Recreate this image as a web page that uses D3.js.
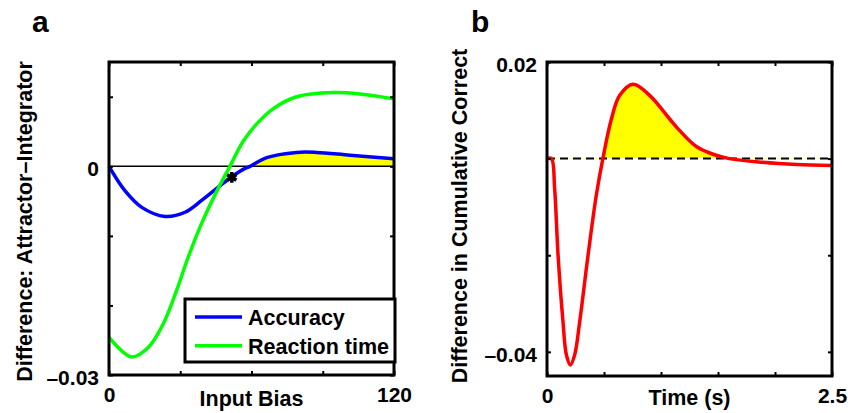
<!DOCTYPE html>
<html>
<head>
<meta charset="utf-8">
<script src="https://cdn.jsdelivr.net/npm/d3@7"></script>
<style>
  body { margin: 0; background: #fff; }
  text { font-family: "Liberation Sans", Arial, sans-serif; font-weight: bold; }
</style>
</head>
<body>
<div id="chart"></div>
<script>
// panel a: difference vs input bias
const biasX = [0, 6.7, 13.8, 23.6, 32, 39, 46, 51.7, 57.3, 59.4, 66.4, 79, 87.4, 101.5, 120];
const accuracyDiff = [0, -0.0035, -0.0059, -0.0072, -0.0066, -0.0049, -0.003, -0.0015, -0.0003, 0, 0.00125, 0.002, 0.002, 0.0016, 0.0011];
const rtX = [0, 9.55, 16.6, 22.9, 28.5, 33.4, 39, 44.6, 50.9, 56.5, 62.2, 69.2, 79, 94.4, 105.7, 120];
const rtDiff = [-0.0246, -0.0274, -0.026, -0.0226, -0.0178, -0.013, -0.0082, -0.0041, 0, 0.0036, 0.0061, 0.0083, 0.01, 0.0106, 0.0104, 0.0097];
const starPoint = [51.7, -0.0016];
const seriesNames = ["Accuracy", "Reaction time"];

const biasTicks = [0, 30, 60, 90, 120];
const biasTickLabels = ["0", "", "", "", "120"];
const diffTicks = [-0.03, -0.02, -0.01, 0, 0.01];
const diffTickLabels = ["\u20130.03", "", "", "0", ""];

// panel b: difference in cumulative correct vs time
const timeX = [0, 0.039, 0.067, 0.097, 0.14, 0.17, 0.205, 0.243, 0.287, 0.36, 0.433, 0.49, 0.565, 0.638, 0.755, 0.9, 1.076, 1.16, 1.31, 1.456, 1.6, 1.89, 2.19, 2.5];
const cumDiff = [0, 0, -0.0062, -0.02, -0.0337, -0.0406, -0.0427, -0.0406, -0.0337, -0.02, -0.0075, 0, 0.0082, 0.0131, 0.0154, 0.0131, 0.0082, 0.0059, 0.0025, 0.0009, 0, -0.00075, -0.0012, -0.0014];

const timeTicks = [0, 0.5, 1, 1.5, 2, 2.5];
const timeTickLabels = ["0", "", "", "", "", "2.5"];
const cumTicks = [-0.04, -0.02, 0, 0.02];
const cumTickLabels = ["\u20130.04", "", "", "0.02"];

const width = 848, height = 413;

const svg = d3.select("#chart").append("svg")
    .attr("width", width)
    .attr("height", height)
    .style("background", "#fff");

function labelFor(ticks, labels) {
    return d => {
        const i = ticks.findIndex(t => Math.abs(t - d) < 1e-9);
        return i < 0 ? "" : labels[i];
    };
}

// draws the box, inward ticks on all four sides and tick labels
function drawFrame(g, x, y, xTicks, xLabels, yTicks, yLabels) {
    const [x0, x1] = x.range();
    const [y0, y1] = y.range();

    const bottom = g.append("g").attr("transform", `translate(0,${y0})`)
        .call(d3.axisBottom(x).tickValues(xTicks).tickSizeInner(-4).tickSizeOuter(0)
            .tickPadding(12).tickFormat(labelFor(xTicks, xLabels)));
    const top = g.append("g").attr("transform", `translate(0,${y1})`)
        .call(d3.axisTop(x).tickValues(xTicks).tickSizeInner(-4).tickSizeOuter(0).tickFormat(""));
    const left = g.append("g").attr("transform", `translate(${x0},0)`)
        .call(d3.axisLeft(y).tickValues(yTicks).tickSizeInner(-4).tickSizeOuter(0)
            .tickPadding(10).tickFormat(labelFor(yTicks, yLabels)));
    const right = g.append("g").attr("transform", `translate(${x1},0)`)
        .call(d3.axisRight(y).tickValues(yTicks).tickSizeInner(-4).tickSizeOuter(0).tickFormat(""));

    [bottom, top, left, right].forEach(a => {
        a.select(".domain").remove();
        a.selectAll(".tick line").attr("stroke", "#000").attr("stroke-width", 2);
        a.selectAll("text")
            .attr("fill", "#000")
            .style("font-size", "21px")
            .style("font-family", "'Liberation Sans', Arial, sans-serif")
            .style("font-weight", "bold");
    });
    left.selectAll("text").attr("dy", "0.44em");

    g.append("rect")
        .attr("x", x0).attr("y", y1)
        .attr("width", x1 - x0).attr("height", y0 - y1)
        .attr("fill", "none")
        .attr("stroke", "#000")
        .attr("stroke-width", 3);
}

const smooth = d3.curveCatmullRom.alpha(0.5);

// ---------- panel a ----------
const xA = d3.scaleLinear().domain([0, 120]).range([109, 394]);
const yA = d3.scaleLinear().domain([-0.03, 0.015]).range([375, 62]);
const gA = svg.append("g");

const accData = biasX.map((b, i) => [b, accuracyDiff[i]]);
const rtData = rtX.map((b, i) => [b, rtDiff[i]]);

svg.append("clipPath").attr("id", "aboveZeroA")
    .append("rect")
    .attr("x", xA(0)).attr("y", yA.range()[1])
    .attr("width", xA(120) - xA(0)).attr("height", yA(0) - yA.range()[1]);

gA.append("path")
    .datum(accData)
    .attr("clip-path", "url(#aboveZeroA)")
    .attr("fill", "#ffff00")
    .attr("d", d3.area().x(d => xA(d[0])).y0(yA(0)).y1(d => yA(d[1])).curve(smooth));

gA.append("line")
    .attr("x1", xA(0)).attr("x2", xA(120))
    .attr("y1", yA(0)).attr("y2", yA(0))
    .attr("stroke", "#000").attr("stroke-width", 1.5);

const lineA = d3.line().x(d => xA(d[0])).y(d => yA(d[1])).curve(smooth);

gA.append("path").datum(accData)
    .attr("fill", "none").attr("stroke", "#0000ff").attr("stroke-width", 3.5)
    .attr("d", lineA);
gA.append("path").datum(rtData)
    .attr("fill", "none").attr("stroke", "#00ff00").attr("stroke-width", 3.5)
    .attr("d", lineA);

gA.append("path")
    .attr("transform", `translate(${xA(starPoint[0])},${yA(starPoint[1])})`)
    .attr("d", d3.symbol(d3.symbolAsterisk, 80)())
    .attr("fill", "none").attr("stroke", "#000").attr("stroke-width", 3.5);

drawFrame(gA, xA, yA, biasTicks, biasTickLabels, diffTicks, diffTickLabels);

// legend
const legend = gA.append("g");
legend.append("rect")
    .attr("x", 185).attr("y", 299).attr("width", 210).attr("height", 63)
    .attr("fill", "#fff").attr("stroke", "#000").attr("stroke-width", 3);
const legendColors = ["#0000ff", "#00ff00"];
seriesNames.forEach((name, i) => {
    const ly = 317 + i * 28.7;
    legend.append("line")
        .attr("x1", 195).attr("x2", 242).attr("y1", ly).attr("y2", ly)
        .attr("stroke", legendColors[i]).attr("stroke-width", 3.5);
    legend.append("text")
        .attr("x", 248).attr("y", ly + 8)
        .style("font-size", "21.5px")
        .text(name);
});

gA.append("text")
    .attr("x", 251.5).attr("y", 406)
    .attr("text-anchor", "middle")
    .style("font-size", "21.5px")
    .text("Input Bias");
gA.append("text")
    .attr("transform", "translate(31.5,221.5) rotate(-90)")
    .attr("text-anchor", "middle")
    .style("font-size", "21.5px")
    .text("Difference: Attractor\u2013Integrator");
gA.append("text")
    .attr("x", 32).attr("y", 32)
    .style("font-size", "30px")
    .text("a");

// ---------- panel b ----------
const xB = d3.scaleLinear().domain([0, 2.5]).range([547, 832]);
const yB = d3.scaleLinear().domain([-0.045, 0.02]).range([376, 62]);
const gB = svg.append("g");

const cumData = timeX.map((t, i) => [t, cumDiff[i]]);

svg.append("clipPath").attr("id", "aboveZeroB")
    .append("rect")
    .attr("x", xB(0)).attr("y", yB.range()[1])
    .attr("width", xB(2.5) - xB(0)).attr("height", yB(0) - yB.range()[1]);

gB.append("path")
    .datum(cumData)
    .attr("clip-path", "url(#aboveZeroB)")
    .attr("fill", "#ffff00")
    .attr("d", d3.area().x(d => xB(d[0])).y0(yB(0)).y1(d => yB(d[1])).curve(smooth));

gB.append("line")
    .attr("x1", xB(0)).attr("x2", xB(2.5))
    .attr("y1", yB(0)).attr("y2", yB(0))
    .attr("stroke", "#000").attr("stroke-width", 2)
    .attr("stroke-dasharray", "8,5");

gB.append("path").datum(cumData)
    .attr("fill", "none").attr("stroke", "#ff0000").attr("stroke-width", 3.5)
    .attr("d", d3.line().x(d => xB(d[0])).y(d => yB(d[1])).curve(smooth));

drawFrame(gB, xB, yB, timeTicks, timeTickLabels, cumTicks, cumTickLabels);

gB.append("text")
    .attr("x", 689.5).attr("y", 405)
    .attr("text-anchor", "middle")
    .style("font-size", "21.5px")
    .text("Time (s)");
gB.append("text")
    .attr("transform", "translate(467,216) rotate(-90)")
    .attr("text-anchor", "middle")
    .style("font-size", "21.5px")
    .text("Difference in Cumulative Correct");
gB.append("text")
    .attr("x", 471).attr("y", 32)
    .style("font-size", "30px")
    .text("b");
</script>
</body>
</html>
